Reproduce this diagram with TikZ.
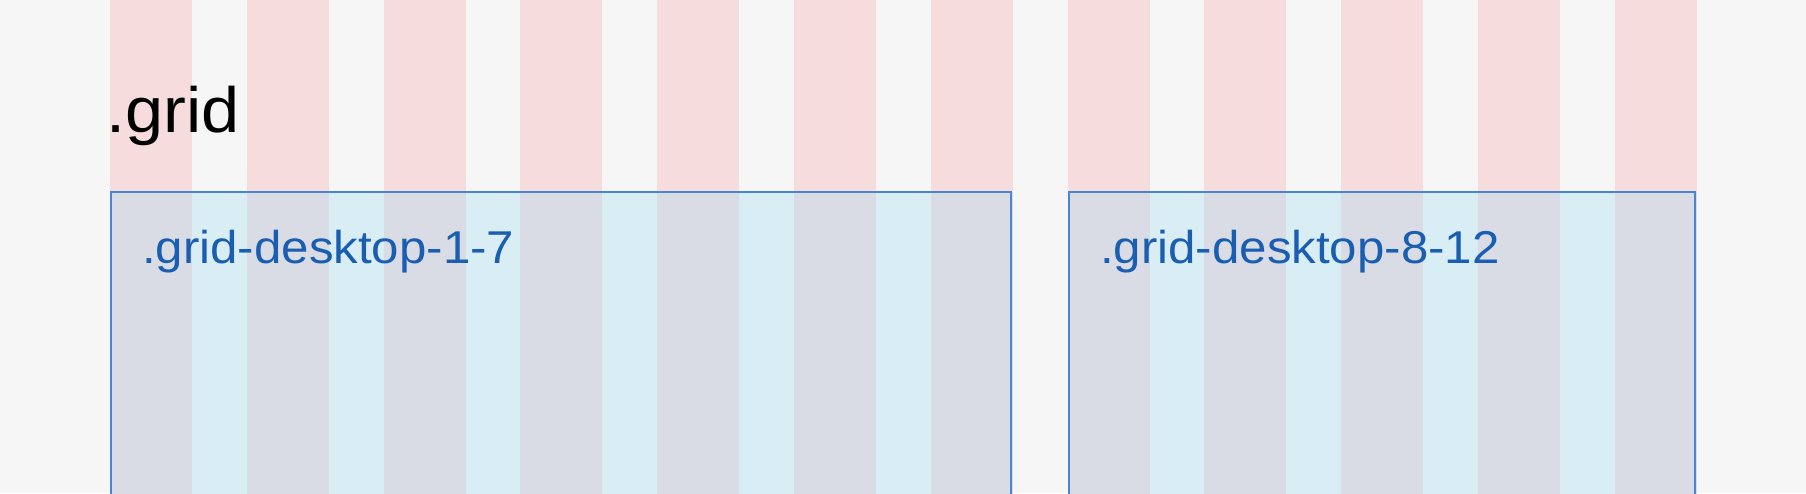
\documentclass[tikz,border=0pt]{standalone}
\usepackage{fontspec}
\setmainfont[FakeStretch=1.07]{Liberation Sans}
\definecolor{pagebg}{RGB}{246,246,246}
\definecolor{colred}{RGB}{246,220,220}
\definecolor{gapblue}{RGB}{217,237,245}
\definecolor{colblue}{RGB}{217,220,229}
\definecolor{edgeblue}{RGB}{74,134,208}
\definecolor{labelblue}{RGB}{26,94,178}
\usetikzlibrary{positioning}

\begin{document}
\begin{tikzpicture}[
  x=1pt, y=-1pt,
  col/.style={fill=colred},
  span/.style={draw=edgeblue, line width=2.6pt},
  title/.style={anchor=base west, inner sep=0pt, font=\fontsize{64}{72}\selectfont, text=black},
  lbl/.style={anchor=base west, inner sep=0pt, font=\fontsize{46}{54}\selectfont, text=labelblue}
]
  \useasboundingbox (0,0) rectangle (1806,493);
  \clip (0,0) rectangle (1806,493);
  \fill[pagebg] (0,0) rectangle (1806,493);

  % ── 12 grid columns ──
  \foreach \i in {0,...,11}
    \fill[col] ({110+136.8*\i},0) rectangle ++(82,493);

  \node[title] (grid) at (106,132) {.grid};

  % ── span 1-7 ──
  \fill[gapblue] (110,192) rectangle (1012,500);
  \foreach \i in {0,...,6}
    \fill[colblue] ({110+136.8*\i},192) rectangle ++(82,308);
  \draw[span] (111,500) -- (111,192) -- (1011,192) -- (1011,500);
  \node[lbl] (left) at (142,263) {.grid-desktop-1-7};

  % ── span 8-12 ──
  \fill[gapblue] (1068,192) rectangle (1696,500);
  \foreach \i in {7,...,11}
    \fill[colblue] ({110+136.8*\i},192) rectangle ++(82,308);
  \draw[span] (1069,500) -- (1069,192) -- (1695,192) -- (1695,500);
  \node[lbl] (right) at (1100,263) {.grid-desktop-8-12};
\end{tikzpicture}
\end{document}
